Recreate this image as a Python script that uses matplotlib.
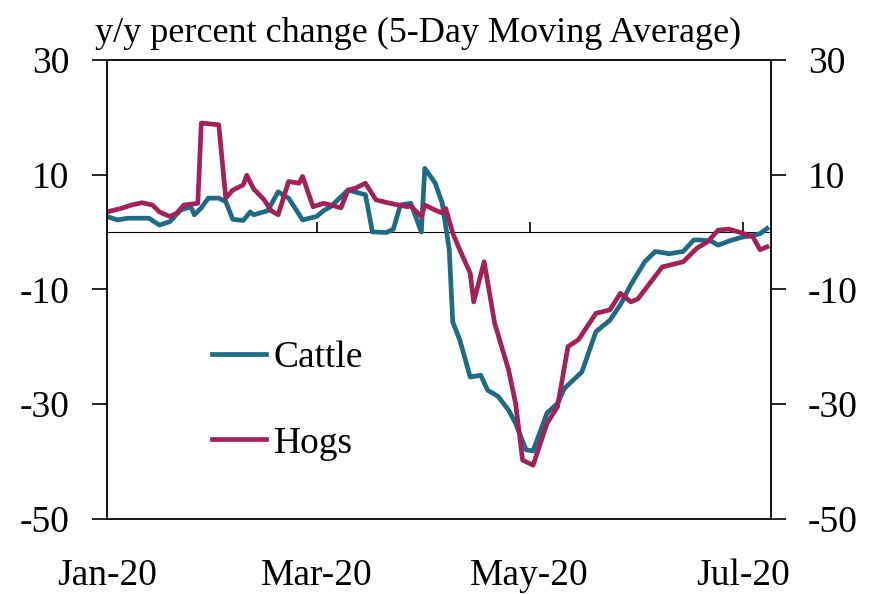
import numpy as np
import matplotlib
matplotlib.use("Agg")
import matplotlib.pyplot as plt
import matplotlib.dates as mdates

plt.rcParams['font.family'] = ['Liberation Serif', 'DejaVu Serif']
plt.rcParams['axes.unicode_minus'] = False

# day offsets from 2020-01-01 and y/y % change (5-day moving average)
cattle_days = [0, 3, 6, 12, 15, 18, 21, 24, 25, 27, 29, 32, 34, 36, 39, 41, 42, 46, 49, 52,
               56, 60, 62, 64, 69, 74, 76, 80, 82, 84, 87, 90, 91, 94, 96, 98, 99, 101, 104, 107,
               109, 112, 115, 117, 120, 122, 126, 129, 131, 136, 140, 144, 147, 150, 154, 157, 161, 165, 168, 170,
               173, 175, 179, 182, 185, 187, 189]
cattle = [2.7, 2.1, 2.4, 2.4, 1.2, 1.8, 3.8, 4.4, 3.0, 4.2, 5.9, 5.9, 5.3, 2.2, 2.0, 3.5, 3.0, 3.7, 7.0, 5.9,
          2.1, 2.7, 3.7, 4.4, 7.3, 6.5, 0.0, -0.1, 0.5, 4.7, 5.0, 0.0, 11.1, 8.5, 5.0, -3.1, -15.7, -18.8, -25.3, -25.0,
          -27.6, -28.7, -31.1, -33.4, -38.0, -38.2, -31.6, -29.9, -27.3, -24.4, -17.4, -15.4, -12.7, -9.2, -5.2, -3.4, -3.8, -3.4, -1.4, -1.4,
          -1.6, -2.3, -1.4, -0.9, -0.6, -0.3, 0.6]

hogs_days = [0, 4, 7, 10, 13, 15, 18, 20, 22, 26, 27, 32, 34, 36, 39, 40, 42, 45, 47, 49,
             52, 55, 56, 59, 62, 64, 67, 69, 71, 74, 77, 81, 86, 87, 90, 91, 94, 96, 97, 99,
             101, 104, 105, 108, 111, 115, 117, 119, 122, 126, 129, 132, 135, 140, 144, 147, 150, 152, 159, 165,
             169, 172, 175, 178, 182, 185, 187, 189]
hogs = [3.5, 4.1, 4.7, 5.1, 4.7, 3.5, 2.7, 3.3, 4.7, 5.0, 19.0, 18.7, 5.9, 7.3, 8.2, 9.9, 7.5, 5.6, 3.7, 3.0,
        8.8, 8.5, 9.7, 4.4, 5.0, 4.7, 4.2, 7.3, 7.6, 8.5, 5.6, 5.0, 4.4, 4.5, 2.7, 4.7, 3.8, 3.3, 4.1, -0.2,
        -3.1, -7.2, -12.2, -5.2, -15.9, -24.1, -29.9, -39.8, -40.7, -33.4, -30.5, -20.0, -18.8, -14.2, -13.6, -10.7, -12.2, -11.7, -6.1, -5.2,
        -2.8, -1.7, 0.3, 0.5, -0.2, -0.9, -3.1, -2.6]

start = np.datetime64('2020-01-01')
cattle_x = start + np.array(cattle_days, dtype='timedelta64[D]')
hogs_x = start + np.array(hogs_days, dtype='timedelta64[D]')

fig = plt.figure(figsize=(8.73, 5.94), dpi=100)
ax = fig.add_axes([0.1226, 0.127, 0.76, 0.772])

ax.plot(cattle_x, cattle, color='#1f6a84', lw=3.4, label='Cattle')
ax.plot(hogs_x, hogs, color='#a2215a', lw=3.4, label='Hogs')

ax.set_ylim(-50, 30)
ax.set_yticks([-50, -30, -10, 10, 30])
ax.set_xlim(start, start + np.timedelta64(190, 'D'))
ax.xaxis.set_major_locator(mdates.MonthLocator(bymonth=[1, 3, 5, 7]))
ax.xaxis.set_major_formatter(mdates.DateFormatter('%b-%y'))
ax.tick_params(axis='x', length=0, pad=29, labelsize=27)
ax.tick_params(axis='y', direction='out', length=11, width=1.2, pad=16, labelsize=27,
               left=True, right=True, labelleft=True, labelright=True)
for s in ax.spines.values():
    s.set_linewidth(1.3)

# zero line with its own month ticks
zero = ax.secondary_xaxis(50 / 80)
zero.xaxis.set_major_locator(mdates.MonthLocator(bymonth=[3, 5, 7]))
zero.tick_params(direction='out', length=7, width=1.2, labelbottom=False, labeltop=False)
zero.spines['bottom'].set_linewidth(1.3)

fig.text(0.109, 0.93, 'y/y percent change (5-Day Moving Average)', fontsize=26)

ax.legend(loc='upper left', bbox_to_anchor=(0.135, 0.42), frameon=False, fontsize=27,
          handlelength=1.45, handletextpad=0.2, labelspacing=1.35, borderaxespad=0)

fig.savefig('out.png', dpi=100)
